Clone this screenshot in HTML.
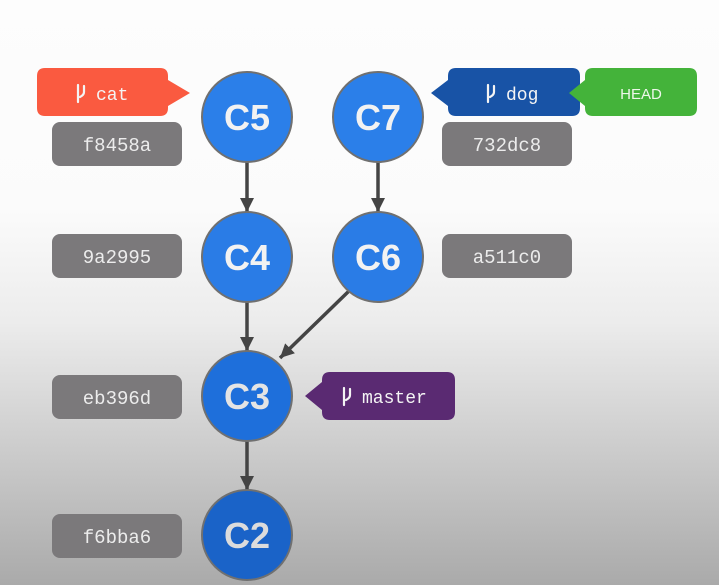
<!DOCTYPE html>
<html><head><meta charset="utf-8"><style>
html,body{margin:0;padding:0;width:719px;height:585px;overflow:hidden}
svg{display:block}
.h{font-family:"Liberation Mono",monospace;font-size:19px;fill:#ececec}
.c{font-family:"Liberation Sans",sans-serif;font-weight:bold;font-size:36px;fill:#f2f2f2}
.b{font-family:"Liberation Mono",monospace;font-size:18px;fill:#f4f4f4}
</style></head><body>
<svg width="719" height="585" viewBox="0 0 719 585" xmlns="http://www.w3.org/2000/svg">
<defs>
<linearGradient id="bg" x1="0" y1="0" x2="0" y2="1">
<stop offset="0" stop-color="#fdfdfd"/>
<stop offset="0.36" stop-color="#fbfbfb"/>
<stop offset="0.55" stop-color="#ececec"/>
<stop offset="1" stop-color="#aaaaaa"/>
</linearGradient>
<marker id="ar" markerWidth="16" markerHeight="16" refX="14" refY="7" orient="auto" markerUnits="userSpaceOnUse">
<path d="M0,0 L14,7 L0,14 Z" fill="#444"/>
</marker>
</defs>
<rect width="719" height="585" fill="url(#bg)"/>
<g stroke="#444" stroke-width="3.5" fill="none">
<line x1="247" y1="162" x2="247" y2="212" marker-end="url(#ar)"/>
<line x1="378" y1="162" x2="378" y2="212" marker-end="url(#ar)"/>
<line x1="247" y1="302" x2="247" y2="351" marker-end="url(#ar)"/>
<line x1="247" y1="441" x2="247" y2="490" marker-end="url(#ar)"/>
<line x1="350" y1="290" x2="280" y2="358" marker-end="url(#ar)"/>
</g>
<g fill="#7b797b">
<rect x="52" y="122" width="130" height="44" rx="8"/>
<rect x="52" y="234" width="130" height="44" rx="8"/>
<rect x="52" y="375" width="130" height="44" rx="8"/>
<rect x="52" y="514" width="130" height="44" rx="8"/>
<rect x="442" y="122" width="130" height="44" rx="8"/>
<rect x="442" y="234" width="130" height="44" rx="8"/>
</g>
<g class="h" text-anchor="middle">
<text x="117" y="151">f8458a</text>
<text x="117" y="263">9a2995</text>
<text x="117" y="404">eb396d</text>
<text x="117" y="543">f6bba6</text>
<text x="507" y="151">732dc8</text>
<text x="507" y="263">a511c0</text>
</g>
<path d="M45,68 H160 Q168,68 168,76 V80 L190,93 L168,106 V108 Q168,116 160,116 H45 Q37,116 37,108 V76 Q37,68 45,68 Z" fill="#fa5a40"/>
<path d="M456,68 H572 Q580,68 580,76 V108 Q580,116 572,116 H456 Q448,116 448,108 V106 L431,93 L448,80 V76 Q448,68 456,68 Z" fill="#1853a6"/>
<path d="M593,68 H689 Q697,68 697,76 V108 Q697,116 689,116 H593 Q585,116 585,108 V106 L569,93 L585,80 V76 Q585,68 593,68 Z" fill="#44b33a"/>
<path d="M330,372 H447 Q455,372 455,380 V412 Q455,420 447,420 H330 Q322,420 322,412 V410 L305,396 L322,382 V380 Q322,372 330,372 Z" fill="#5a2a72"/>
<text class="b" x="96" y="100">cat</text>
<text class="b" x="506" y="100">dog</text>
<text x="641" y="99" text-anchor="middle" font-family="Liberation Sans,sans-serif" font-size="15" fill="#eef7ea">HEAD</text>
<text class="b" x="362" y="403" font-size="17">master</text>
<g stroke="#f4f4f4" stroke-width="2.2" fill="none" stroke-linecap="round">
<path d="M78,85 V102 M84,86 V92 Q84,95 80,97"/>
<path d="M488,85 V102 M494,86 V92 Q494,95 490,97"/>
<path d="M344,388 V405 M350,389 V395 Q350,398 346,400"/>
</g>
<g stroke="#707070" stroke-width="2">
<circle cx="247" cy="117" r="45" fill="#2b7fe9"/>
<circle cx="378" cy="117" r="45" fill="#2b7fe9"/>
<circle cx="247" cy="257" r="45" fill="#2a7ce6"/>
<circle cx="378" cy="257" r="45" fill="#2a7ce6"/>
<circle cx="247" cy="396" r="45" fill="#1e6fdb"/>
<circle cx="247" cy="535" r="45" fill="#1a63c8"/>
</g>
<g class="c" text-anchor="middle">
<text x="247" y="130">C5</text>
<text x="378" y="130">C7</text>
<text x="247" y="270">C4</text>
<text x="378" y="270">C6</text>
<text x="247" y="409" fill="#e4e4e4">C3</text>
<text x="247" y="548" fill="#dcdcdc">C2</text>
</g>
</svg>
</body></html>
